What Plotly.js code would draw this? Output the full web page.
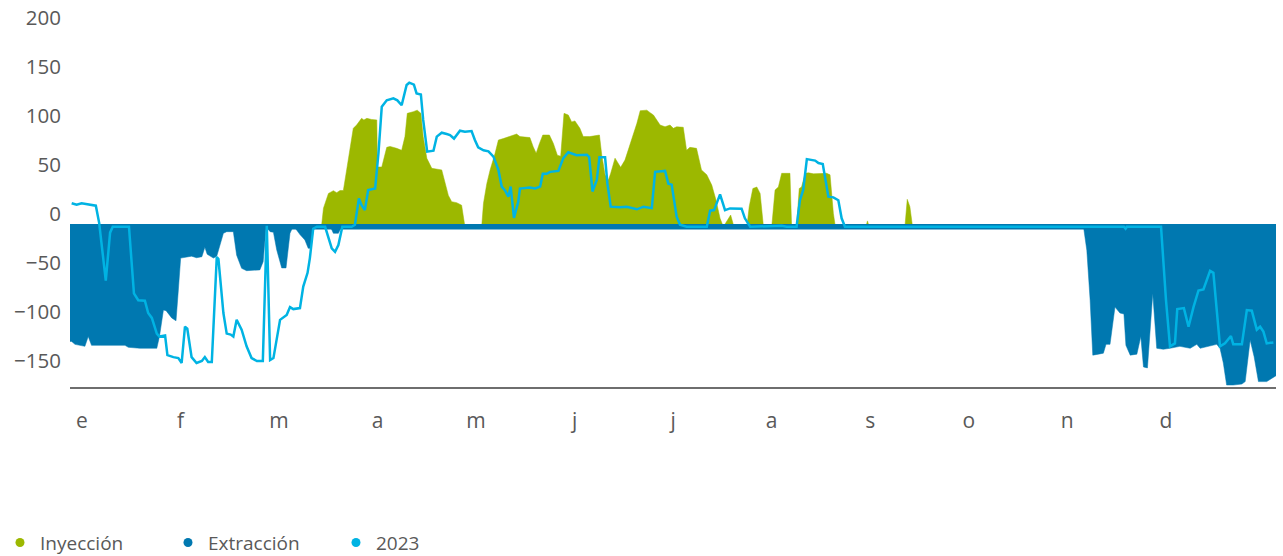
<!DOCTYPE html>
<html>
<head>
<meta charset="utf-8">
<script src="https://cdn.plot.ly/plotly-3.0.1.min.js"></script>
<style>
html,body{margin:0;padding:0;background:#fff;}
#chart{width:1283px;height:556px;}
</style>
</head>
<body>
<div id="chart"></div>
<script>
// Month labels
const months = ['e','f','m','a','m','j','j','a','s','o','n','d'];

// Inyección (day of year, value)
const injDays = [0,75.9,76.5,77.5,78,79.5,80.5,81.5,82.5,83.5,84.5,85.5,86.5,88,88.7,89.6,91,92.6,92.8,94.1,95.6,96.6,98.6,100.1,101.1,101.8,103.6,104.8,105.9,106.6,107.7,109.2,112.2,113.2,114.2,115.2,116.7,118.2,119.2,122.2,122.8,124.3,124.8,125.8,126.8,128.3,129.3,130.8,131.8,133.8,134.8,135.8,138.8,139.8,140.7,141.7,142.7,144.7,145.9,147.1,148.1,149.1,150.4,151.4,152.4,153.9,154.9,156.9,159.8,160.5,161.5,162.5,163.2,164.5,165.5,166.2,167.5,168.5,170,171.1,172.1,174.1,175.1,176.1,178.1,179.6,181.1,182.1,183.1,185.1,186.1,187.1,189.1,190.6,192.2,193.7,195,196.2,197.2,198.4,199.4,200.4,204.3,205,206.1,207.3,208.3,209.3,211.8,212.8,213.8,214.8,217.3,217.8,219.3,220.1,220.8,221.9,222.9,224.4,226.4,228.4,229.4,230.4,231,240.2,240.7,241.2,252,252.7,253.5,254.3,364];
const injVals = [-13,-13,6,16,21,23.8,21.8,24,24,45,68.7,87.4,90.8,97.6,96,97.6,96.5,96,48,48,68,69,67,65,79,102.7,104.4,106,102.7,79,56.8,46.6,45,31,19,12.6,11.6,9,-13,-13,-11,-11,11,31,45,62,75.5,77,78,80.6,81.6,79,78,68.7,62,72,80.6,80.6,72,60,59,102.7,101,94,95,87.4,79,79,80.6,60,40,34.7,41.5,57,51.7,47.6,55,65,82,92.5,105.4,106,103.4,101,90.8,89,90.8,87.4,89,88.5,65,68,67,45,40,29.6,14,-4.4,-13,-6,-1,-13,-13,7.5,26,27.6,21,-13,-13,24.5,27.6,41.5,41.5,-13,-13,26,27.6,41.5,42,41,41,41.5,40,0.7,-13,-13,-7,-13,-13,15,7.5,-13,-13];

// Extracción (day of year, value)
const extDays = [0,0.5,1.5,3,4.5,5.5,6.5,9.1,16.6,17.6,21.1,26.2,27,28.2,29,30.7,32,32.7,33.4,36.7,38.2,39.8,40.7,41.4,43.3,44.3,46.3,47.3,49.3,50.3,51.8,53.3,57.3,58.3,59.2,60.4,61.4,62.4,63.9,65.2,66.4,67.3,67.9,69.4,70.9,71.9,72.7,73.4,74,78.6,79.5,81,82,305.9,306.9,307.9,308.7,310.4,311.9,312.7,313.9,315.4,316.9,318.1,318.7,320,322,323.2,324,325.2,326,326.8,328,330,332,335,338.1,340.1,341.1,344.1,346.1,347.1,348.1,349.1,351.1,353.7,354.7,356.2,357.4,358.7,361.2,362.7,363.7,364];
const extVals = [-130,-130,-133,-134,-135,-125,-134,-134,-134,-136,-137,-137,-125,-98,-98.6,-106,-109,-77.6,-45,-43,-44.6,-43.6,-34,-41,-45,-43,-19.7,-18,-18,-42,-55.4,-57.8,-57,-48.6,-13,-18,-18.6,-36.7,-55,-55,-19.6,-13,-14,-21,-26.5,-35,-35,-17,-13,-13,-19.7,-19.7,-13,-13,-37,-88,-144,-143,-142,-133,-133,-95,-101,-102,-134,-144,-143,-125,-156,-157,-118,-81,-137,-138,-137,-135,-137,-133,-137,-135,-133,-137,-152,-174.5,-174.5,-173.5,-171,-128.6,-145.6,-171,-171,-167.7,-165,-165];

// 2023 (day of year, value)
const y23Days = [0.5,2,3.5,5,6.5,7.8,8.8,10.8,12.1,12.9,17.8,19.3,20.6,22.6,23.6,24.7,26.2,27,28.7,29.4,31.2,32.7,33.7,34.7,35.4,36.7,38.2,39.8,40.7,41.7,42.8,44.3,44.8,46.3,47.3,48.5,49.3,50.3,51.8,53.3,54.8,56.4,58.2,59.4,60.4,61.4,63.4,65.4,66.4,67.4,69.4,70.4,71.7,72.4,73.4,74.5,77,78,79,80,81,82.2,85,86,86.5,87.2,88,88.5,89,90,92.1,93.1,94.1,95.6,97.6,98.8,100.1,101.6,102.4,103.8,104.6,105.9,106.6,107.8,109.7,110.7,112.2,113.7,114.7,115.9,117.7,119.2,121.2,122.2,123.2,124.8,126.3,127.8,129.3,130.3,131.3,132.3,133,134,135.3,135.8,138.8,140.4,141.9,142.7,143.9,144.9,147.4,148.9,150.4,152.9,156,156.7,157.7,159,159.8,161.5,162.2,163.2,166,168,171.1,173.1,175.6,176.6,179.6,180.6,181.6,183.1,184.1,186.1,192.2,193.2,194.4,196.2,197.7,199.2,202.7,203.7,205.3,214.8,216.3,219.3,220.3,221.3,222.4,224.9,225.9,227.2,228.9,230.4,231.9,232.9,233.9,318.1,318.6,319,329.3,330.8,332,333.5,334.2,336.2,337.6,339.1,340.6,342.1,344.1,345.1,347.1,348.6,350.4,351.1,353.7,355.2,356.7,358.2,359.2,360.2,361.2,363.2];
const y23Vals = [11,9.5,11,10,9,8.5,-9,-68,-19,-13,-13,-81,-88,-88.5,-101,-106,-122,-125,-124,-144,-146,-147,-152,-115,-117,-146,-152,-150,-146,-151,-151,-44,-46,-101,-122,-123,-125,-108,-118,-135,-147,-150,-150,-12,-149,-147,-108,-103,-95,-97,-96,-74,-60,-45,-15,-13,-13,-25,-35,-38.5,-31.6,-13,-13,-11,2,16,9,6,4,24.5,26,62,109.5,116,118,116,111,131.6,134,132,123,122,96,63.6,64.6,79,83,81.6,80.6,77,85,84,84.7,75.5,68,65,64,58.5,45,28,24,17.7,28,-4,12.6,26,27,26,28,41,41,43,44,57,63,60,60.5,58,23,34.7,58,58,31,7.5,7,7.5,4.8,7.5,6,43,44,31,30,-2.7,-11,-13,-13,3.4,4,20,4,5.7,5.5,-4.4,-13,-12,-13,-13,14,24.5,56,54.5,52,51,17.7,17,14,-4.4,-13,-13,-15,-13,-13,-88,-135,-132,-97,-96,-115,-95,-78,-77,-58,-60,-135,-132,-124.5,-133,-133,-98,-98.6,-118,-115,-120,-132,-131];

const seriesNames = ['Inyección','Extracción','2023'];

const BASE = -13;
const cGreen = '#9cb800';
const cDark = '#0078b0';
const cLight = '#00b3e3';
const textCol = '#595959';
const FONT = '"Open Sans", "Noto Sans", sans-serif';

const baseTrace = () => ({x:[0,364], y:[BASE,BASE], mode:'lines', line:{width:0, color:'rgba(0,0,0,0)'}, hoverinfo:'skip', showlegend:false});

const traces = [
  baseTrace(),
  {x:injDays, y:injVals, mode:'lines', fill:'tonexty', fillcolor:cGreen, line:{width:0.5, color:cGreen}, showlegend:false, hoverinfo:'skip'},
  baseTrace(),
  {x:extDays, y:extVals, mode:'lines', fill:'tonexty', fillcolor:cDark, line:{width:0.5, color:cDark}, showlegend:false, hoverinfo:'skip'},
  {x:[0,364], y:[BASE,BASE], mode:'lines', line:{width:5.5, color:cDark}, showlegend:false, hoverinfo:'skip'},
  {x:y23Days, y:y23Vals, mode:'lines', line:{width:2.5, color:cLight}, showlegend:false, hoverinfo:'skip'},
  {x:[null], y:[null], mode:'markers', name:seriesNames[0], marker:{size:9, color:cGreen}},
  {x:[null], y:[null], mode:'markers', name:seriesNames[1], marker:{size:9, color:cDark}},
  {x:[null], y:[null], mode:'markers', name:seriesNames[2], marker:{size:9, color:cLight}}
];

const layout = {
  width:1283, height:556,
  margin:{l:70, r:7, t:18, b:169},
  paper_bgcolor:'#fff', plot_bgcolor:'#fff',
  font:{family:FONT, color:textCol, size:21},
  showlegend:true,
  legend:{orientation:'h', xref:'container', yref:'container', x:-0.003, y:0.024, xanchor:'left', yanchor:'middle',
          font:{size:19, color:textCol, family:FONT}, itemwidth:30, entrywidth:123, entrywidthmode:'pixels', traceorder:'normal'},
  xaxis:{range:[0,364], tickvals:months.map((m,i)=>3.6+i*29.74), ticktext:months, showgrid:false, zeroline:false,
         showline:true, linecolor:'#6e6e6e', linewidth:1.5, ticks:'outside', ticklen:14, tickcolor:'rgba(0,0,0,0)',
         tickfont:{size:21, color:textCol}, fixedrange:true},
  yaxis:{range:[-176.5,200], tickvals:[-150,-100,-50,0,50,100,150,200], showgrid:false, zeroline:false, showline:false,
         ticks:'outside', ticklen:4, tickcolor:'rgba(0,0,0,0)', tickfont:{size:20.5, color:textCol}, fixedrange:true}
};

Plotly.newPlot('chart', traces, layout, {displayModeBar:false, staticPlot:true});
</script>
</body>
</html>
